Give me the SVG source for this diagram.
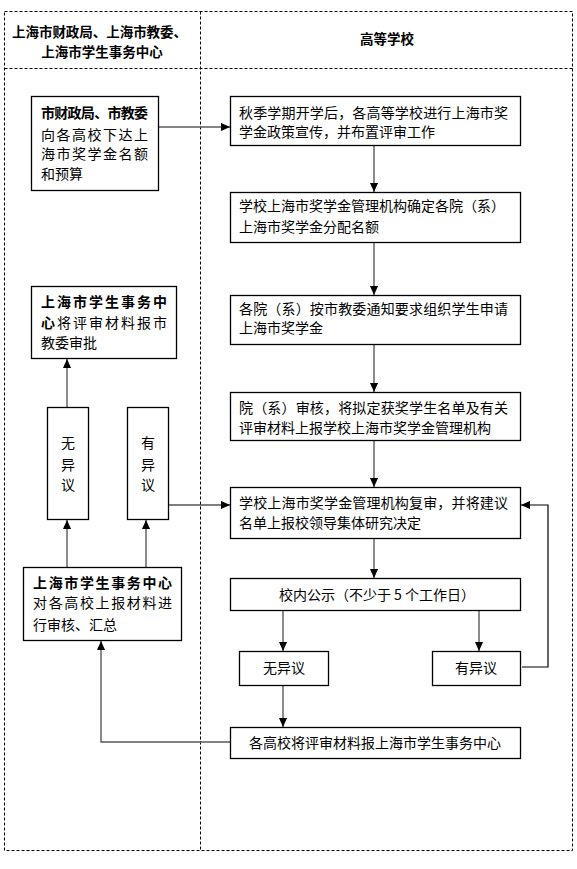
<svg xmlns="http://www.w3.org/2000/svg" width="577" height="869" viewBox="0 0 577 869">
<defs>
<style>
.frame{fill:none;stroke:#000;stroke-width:1;stroke-dasharray:3,2}
.box{fill:#fff;stroke:#000;stroke-width:1.3}
.t{font-family:"Noto Sans CJK SC","Noto Sans",sans-serif;font-size:14px;fill:#000}
.b{font-weight:bold}
.h{font-family:"Noto Sans CJK SC","Noto Sans",sans-serif;font-size:13.5px;font-weight:bold;fill:#000}
.c{text-anchor:middle}
.ln{fill:none;stroke:#5a5a5a;stroke-width:1.4}
.lk{fill:none;stroke:#000;stroke-width:1.2}
</style>
<marker id="ah" viewBox="0 0 10 10" refX="10" refY="5" markerWidth="9" markerHeight="9" markerUnits="userSpaceOnUse" orient="auto">
<path d="M0,0.5 L10,5 L0,9.5 Z" fill="#000"/>
</marker>
</defs>
<rect width="577" height="869" fill="#fff"/>
<g id="frame">
<rect class="frame" x="4.5" y="11.5" width="568" height="839"/>
<line class="frame" x1="4.5" y1="68.5" x2="572.5" y2="68.5"/>
<line class="frame" x1="200.5" y1="11.5" x2="200.5" y2="850.5"/>
<text class="h" x="12" y="37" textLength="175" lengthAdjust="spacing">上海市财政局、上海市教委、</text>
<text class="h c" x="102" y="57">上海市学生事务中心</text>
<text class="h c" x="387" y="44">高等学校</text>
</g>
<g id="connectors">
<line class="ln" x1="159" y1="127" x2="230" y2="127" marker-end="url(#ah)"/>
<line class="ln" x1="374" y1="146" x2="374" y2="192" marker-end="url(#ah)"/>
<line class="ln" x1="374" y1="243" x2="374" y2="295" marker-end="url(#ah)"/>
<line class="ln" x1="374" y1="345" x2="374" y2="392" marker-end="url(#ah)"/>
<line class="ln" x1="374" y1="441" x2="374" y2="487" marker-end="url(#ah)"/>
<line class="ln" x1="374" y1="539" x2="374" y2="578" marker-end="url(#ah)"/>
<line class="ln" x1="283" y1="611" x2="283" y2="651" marker-end="url(#ah)"/>
<line class="ln" x1="479" y1="611" x2="479" y2="651" marker-end="url(#ah)"/>
<line class="ln" x1="283" y1="686" x2="283" y2="727" marker-end="url(#ah)"/>
<polyline class="lk" points="522,667 548,667 548,505 521,505" marker-end="url(#ah)"/>
<line class="lk" x1="169" y1="505" x2="230" y2="505" marker-end="url(#ah)"/>
<polyline class="ln" points="231,742 101,742 101,641" marker-end="url(#ah)"/>
<line class="ln" x1="67" y1="567" x2="67" y2="520" marker-end="url(#ah)"/>
<line class="ln" x1="146" y1="567" x2="146" y2="520" marker-end="url(#ah)"/>
<line class="ln" x1="67" y1="407" x2="67" y2="359" marker-end="url(#ah)"/>
</g>
<g id="nodeA">
<rect class="box" x="31.5" y="96.5" width="127" height="94"/>
<text class="t b" x="41" y="118" textLength="107" lengthAdjust="spacing">市财政局、市教委</text>
<text class="t" x="41" y="140" textLength="107" lengthAdjust="spacing">向各高校下达上</text>
<text class="t" x="41" y="159" textLength="107" lengthAdjust="spacing">海市奖学金名额</text>
<text class="t" x="41" y="179">和预算</text>
</g>
<g id="nodeR1">
<rect class="box" x="230.5" y="96.5" width="290" height="49"/>
<text class="t" x="239" y="118" textLength="269" lengthAdjust="spacing">秋季学期开学后，各高等学校进行上海市奖</text>
<text class="t" x="239" y="137">学金政策宣传，并布置评审工作</text>
</g>
<g id="nodeR2">
<rect class="box" x="230.5" y="192.5" width="290" height="50"/>
<text class="t" x="239" y="211" textLength="266" lengthAdjust="spacing">学校上海市奖学金管理机构确定各院（系）</text>
<text class="t" x="239" y="232">上海市奖学金分配名额</text>
</g>
<g id="nodeR3">
<rect class="box" x="230.5" y="295.5" width="290" height="49"/>
<text class="t" x="239" y="314" textLength="269" lengthAdjust="spacing">各院（系）按市教委通知要求组织学生申请</text>
<text class="t" x="239" y="333">上海市奖学金</text>
</g>
<g id="nodeR4">
<rect class="box" x="230.5" y="392.5" width="290" height="48"/>
<text class="t" x="239" y="413" textLength="269" lengthAdjust="spacing">院（系）审核，将拟定获奖学生名单及有关</text>
<text class="t" x="239" y="433">评审材料上报学校上海市奖学金管理机构</text>
</g>
<g id="nodeR5">
<rect class="box" x="230.5" y="487.5" width="290" height="51"/>
<text class="t" x="239" y="508" textLength="269" lengthAdjust="spacing">学校上海市奖学金管理机构复审，并将建议</text>
<text class="t" x="239" y="528">名单上报校领导集体研究决定</text>
</g>
<g id="nodeR6">
<rect class="box" x="230.5" y="578.5" width="290" height="32"/>
<text class="t c" x="377" y="600">校内公示（不少于 5 个工作日）</text>
</g>
<g id="nodeR7">
<rect class="box" x="239.5" y="651.5" width="89" height="34"/>
<text class="t c" x="284" y="673">无异议</text>
</g>
<g id="nodeR8">
<rect class="box" x="432.5" y="651.5" width="88" height="34"/>
<text class="t c" x="476" y="673">有异议</text>
</g>
<g id="nodeR9">
<rect class="box" x="230.5" y="727.5" width="290" height="31"/>
<text class="t c" x="375" y="748">各高校将评审材料报上海市学生事务中心</text>
</g>
<g id="nodeL2">
<rect class="box" x="31.5" y="286.5" width="145" height="72"/>
<text class="t b" x="41" y="307" textLength="126" lengthAdjust="spacing">上海市学生事务中</text>
<text class="t" x="41" y="328" textLength="126" lengthAdjust="spacing"><tspan class="b">心</tspan>将评审材料报市</text>
<text class="t" x="41" y="348">教委审批</text>
</g>
<g id="nodeL_noobj">
<rect class="box" x="47.5" y="407.5" width="41" height="112"/>
<text class="t c" x="68" y="448">无</text>
<text class="t c" x="68" y="470">异</text>
<text class="t c" x="68" y="490">议</text>
</g>
<g id="nodeL_obj">
<rect class="box" x="127.5" y="407.5" width="41" height="112"/>
<text class="t c" x="148" y="448">有</text>
<text class="t c" x="148" y="470">异</text>
<text class="t c" x="148" y="490">议</text>
</g>
<g id="nodeL3">
<rect class="box" x="23.5" y="567.5" width="158" height="73"/>
<text class="t b" x="33" y="588" textLength="139" lengthAdjust="spacing">上海市学生事务中心</text>
<text class="t" x="33" y="608" textLength="139" lengthAdjust="spacing">对各高校上报材料进</text>
<text class="t" x="33" y="630">行审核、汇总</text>
</g>
</svg>
